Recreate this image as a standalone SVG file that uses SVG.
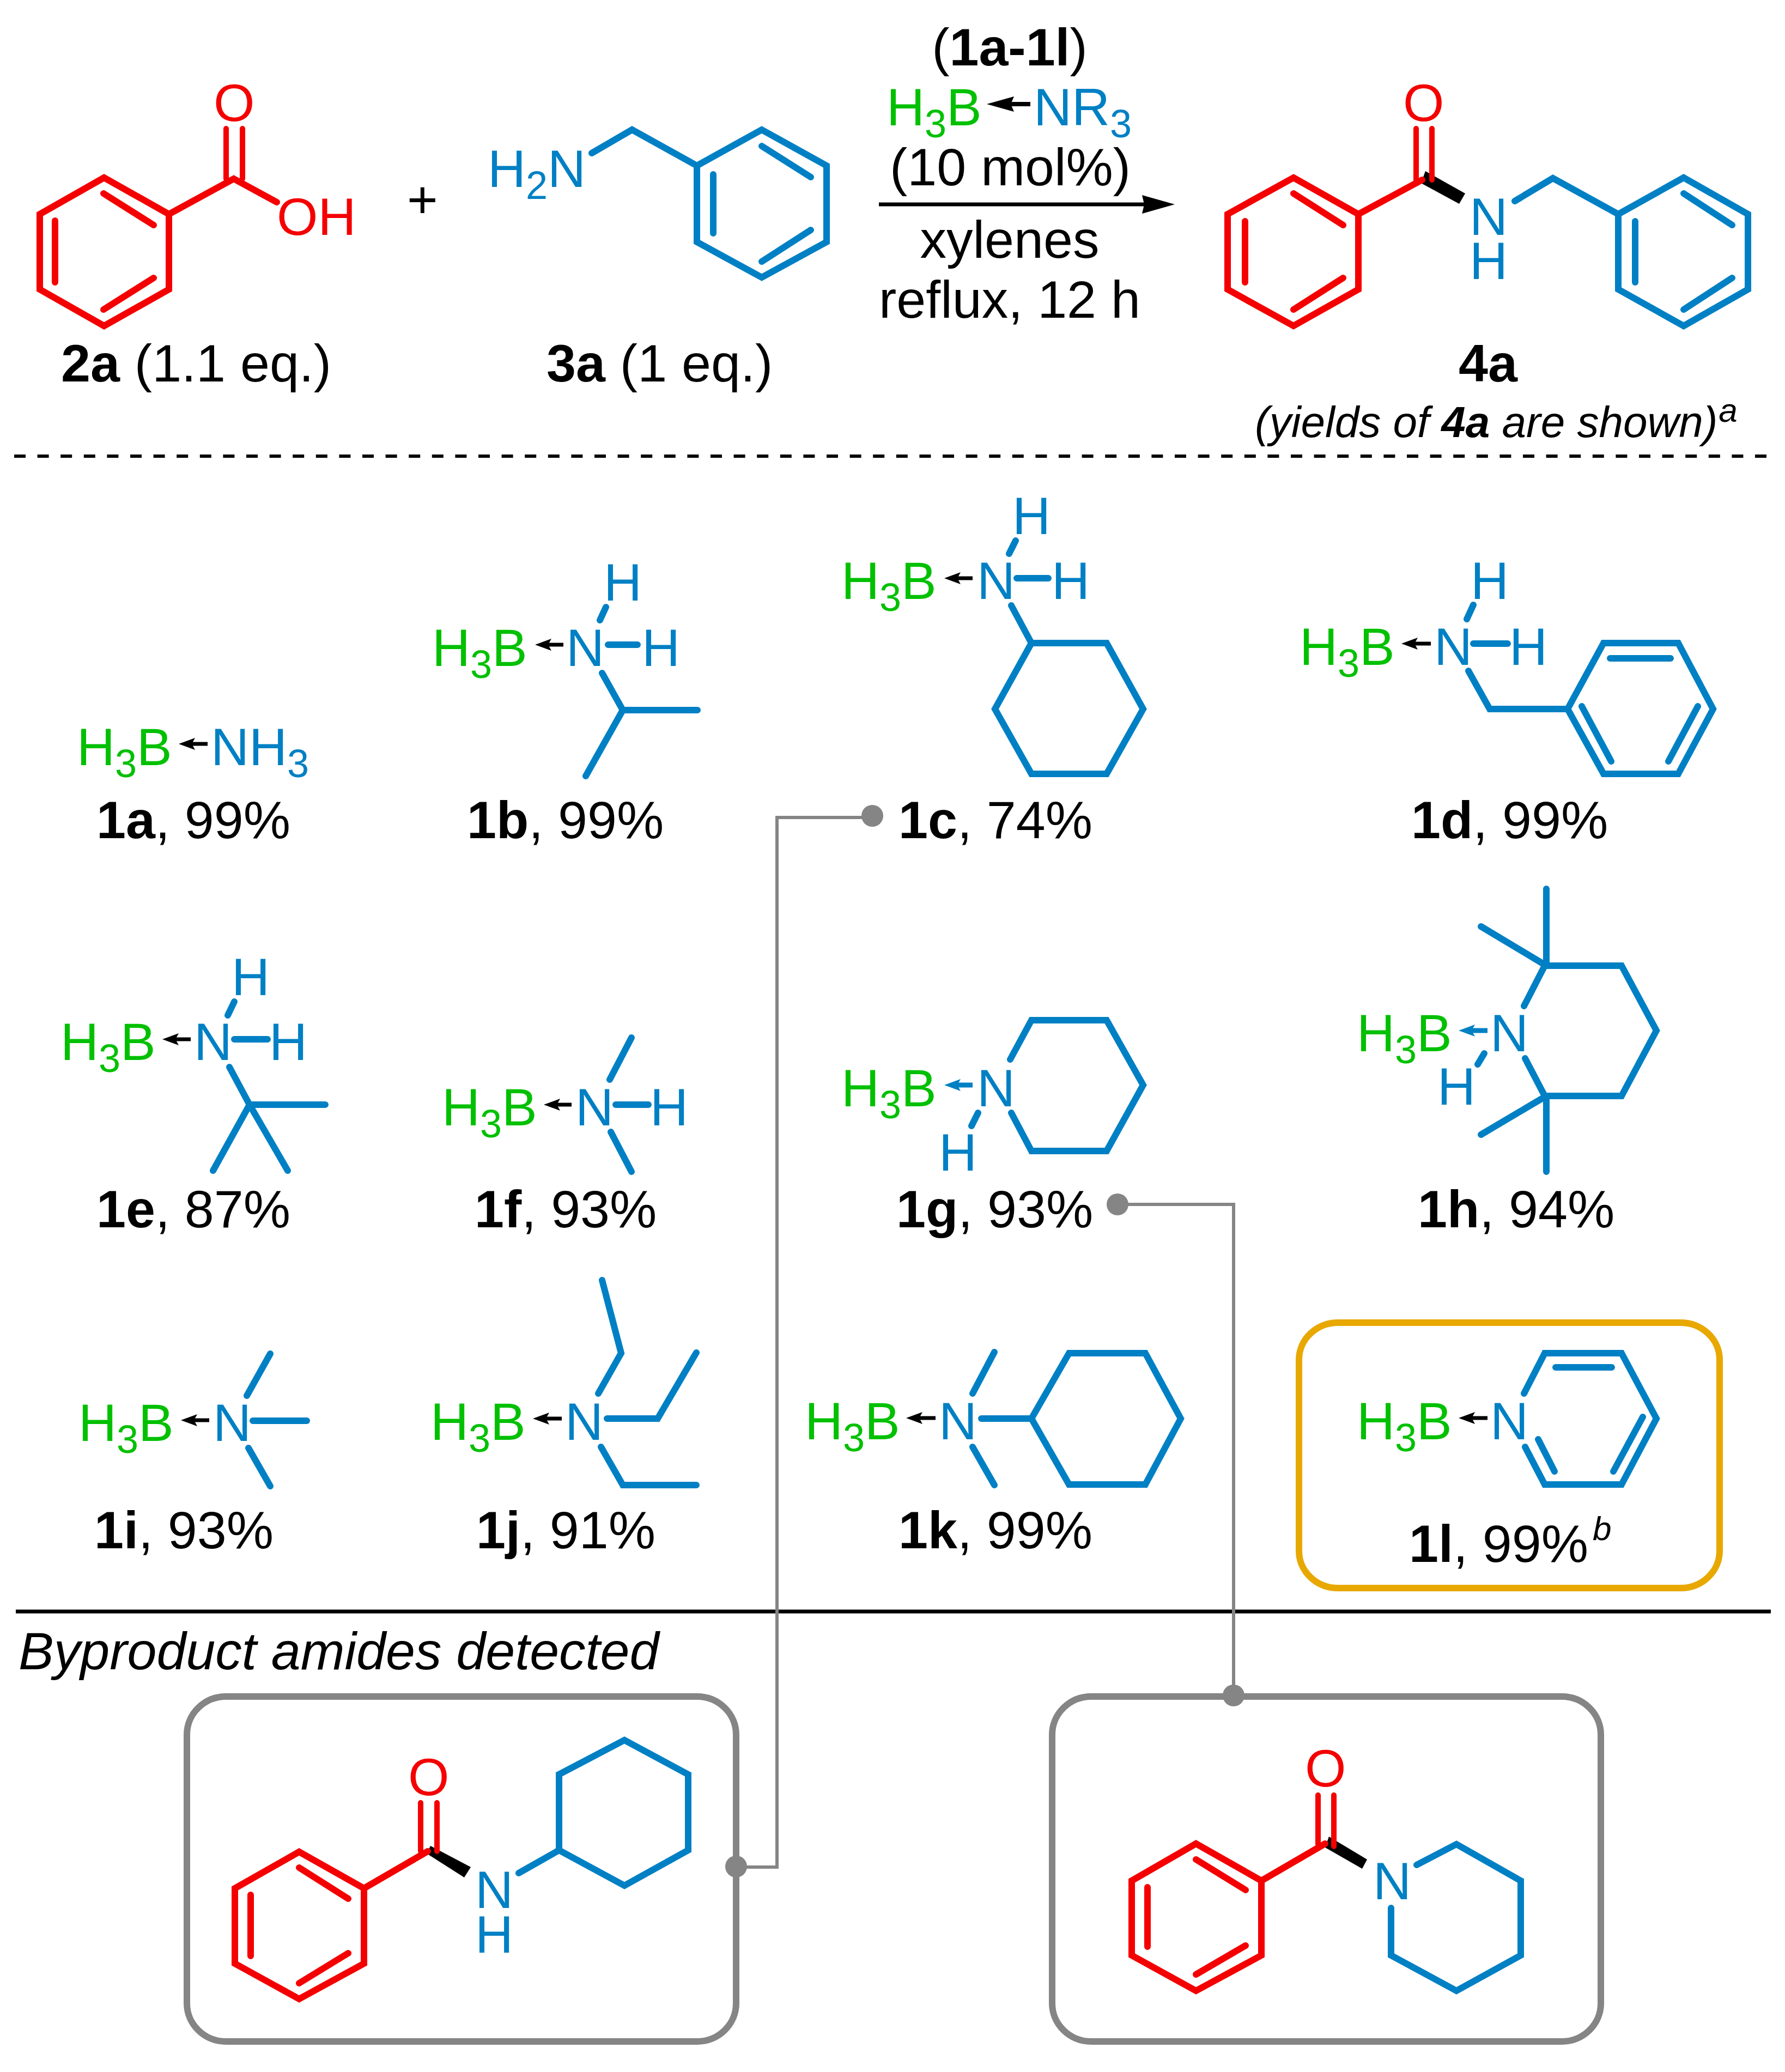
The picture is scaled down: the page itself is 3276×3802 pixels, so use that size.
<svg xmlns="http://www.w3.org/2000/svg" width="3276" height="3802" viewBox="0 0 3276 3802">
<style>
text{font-family:"Liberation Sans",Arial,sans-serif;font-size:97px;fill:#000}
.b{font-weight:bold}
.n{font-weight:normal}
.i{font-style:italic}
.g{fill:#00C000}
.c{fill:#0080C4}
.r{fill:#F50000}
.s{font-size:72px}
.sm{font-size:80px}
.sup{font-size:62px}
.rb,.cb{fill:none;stroke-width:12;stroke-linecap:round;stroke-linejoin:miter;stroke-miterlimit:10}
.rb{stroke:#F50000}
.cb{stroke:#0080C4}
.th{stroke-width:10}
.da{stroke:#000;stroke-width:7;fill:none;marker-end:url(#hk)}
.db{stroke:#0080C4;stroke-width:9;fill:none;marker-end:url(#hb)}
.box{fill:none;stroke:#858585;stroke-width:12}
.con{fill:none;stroke:#858585;stroke-width:6}
.dot{fill:#858585}
</style>
<defs>
<marker id="hk" markerUnits="userSpaceOnUse" markerWidth="34" markerHeight="24" refX="6" refY="12" orient="auto"><path d="M0,1L30,12L0,23L6,12Z" fill="#000"/></marker>
<marker id="hb" markerUnits="userSpaceOnUse" markerWidth="34" markerHeight="24" refX="6" refY="12" orient="auto"><path d="M0,1L30,12L0,23L6,12Z" fill="#0080C4"/></marker>
<marker id="hm" markerUnits="userSpaceOnUse" markerWidth="54" markerHeight="30" refX="6" refY="15" orient="auto"><path d="M0,1L50,15L0,29L6,15Z" fill="#000"/></marker>
<marker id="hl" markerUnits="userSpaceOnUse" markerWidth="64" markerHeight="36" refX="4" refY="18" orient="auto"><path d="M0,1L60,18L0,35L4,18Z" fill="#000"/></marker>
</defs>

<g id="reactant-2a">
<polygon class="rb" points="191,326 310,393 310,531 191,598 73,531 73,393"/>
<path class="rb" d="M190,355L282,413M101,405V518M282,510L190,568M310,393L429,328L508,371"/>
<path class="rb th" d="M415,236V328M445,236V328"/>
<text class="r" x="392" y="222">O</text>
<text class="r" x="508" y="431">OH</text>
<text class="b" x="112" y="700">2a<tspan class="n"> (1.1 eq.)</tspan></text>
</g>
<g id="plus"><text x="747" y="400">+</text></g>
<g id="reactant-3a">
<path class="cb" d="M1086,281L1160,238L1279,304"/>
<polygon class="cb" points="1279,304 1398,238 1517,304 1517,444 1398,509 1279,444"/>
<path class="cb" d="M1398,268L1488,325M1309,320V428M1488,422L1398,480"/>
<text class="c" x="895" y="343">H<tspan class="s" dy="22">2</tspan><tspan dy="-22">N</tspan></text>
<text class="b" x="1003" y="700">3a<tspan class="n"> (1 eq.)</tspan></text>
</g>
<g id="conditions">
<text x="1853" y="120" text-anchor="middle">(<tspan class="b">1a-1l</tspan>)</text>
<text class="g" x="1627" y="230">H<tspan class="s" dy="22">3</tspan><tspan dy="-22">B</tspan></text>
<line stroke="#000" stroke-width="8" marker-end="url(#hm)" x1="1891" y1="191" x2="1855" y2="191"/>
<text class="c" x="1897" y="230">NR<tspan class="s" dy="22">3</tspan></text>
<text x="1854" y="340" text-anchor="middle">(10 mol%)</text>
<line x1="1613" y1="375" x2="2100" y2="375" stroke="#000" stroke-width="7" marker-end="url(#hl)"/>
<text x="1853" y="473" text-anchor="middle">xylenes</text>
<text x="1853" y="583" text-anchor="middle">reflux, 12 h</text>
</g>
<g id="product-4a">
<polygon fill="#000" points="2616,314 2608,336 2678,374 2689,355"/>
<polygon class="rb" points="2374,326 2493,393 2493,531 2374,598 2253,531 2253,393"/>
<path class="rb" d="M2374,355L2465,413M2285,406V518M2465,510L2374,568M2493,393L2610,330"/>
<path class="rb th" d="M2599,236V330M2628,236V330"/>
<text class="r" x="2575" y="222">O</text>
<path class="cb" d="M2780,369L2850,327L2970,393"/>
<polygon class="cb" points="3090,326 3208,393 3208,531 3090,598 2970,531 2970,393"/>
<path class="cb" d="M3090,355L3179,413M3001,406V518M3179,510L3090,568"/>
<text class="c" x="2697" y="431">N</text>
<text class="c" x="2697" y="512">H</text>
<text class="b" x="2677" y="700">4a</text>
<text class="i sm" x="2303" y="802">(yields of <tspan class="b">4a</tspan> are shown)<tspan class="sup" dy="-28" dx="2">a</tspan></text>
</g>
<line id="dashed-divider" x1="26" y1="837" x2="3254" y2="837" stroke="#000" stroke-width="6" stroke-dasharray="21 21.6"/>

<g id="mol-1a">
<text class="g" x="141" y="1404">H<tspan class="s" dy="22">3</tspan><tspan dy="-22">B</tspan></text>
<line class="da" x1="381" y1="1365" x2="352" y2="1365"/>
<text class="c" x="387" y="1404">NH<tspan class="s" dy="22">3</tspan></text>
<text class="b" x="177" y="1538">1a<tspan class="n">, 99%</tspan></text>
</g>
<g id="mol-1b">
<text class="g" x="793" y="1222">H<tspan class="s" dy="22">3</tspan><tspan dy="-22">B</tspan></text>
<line class="da" x1="1034" y1="1183" x2="1006" y2="1183"/>
<text class="c" x="1039" y="1222">N</text><text class="c" x="1178" y="1222">H</text><text class="c" x="1108" y="1102">H</text>
<path class="cb" d="M1116,1183H1170M1112,1114L1101,1138M1105,1235L1143,1303H1280M1143,1303L1075,1424"/>
<text class="b" x="857" y="1538">1b<tspan class="n">, 99%</tspan></text>
</g>
<g id="mol-1c">
<text class="g" x="1544" y="1099">H<tspan class="s" dy="22">3</tspan><tspan dy="-22">B</tspan></text>
<line class="da" x1="1785" y1="1061" x2="1757" y2="1061"/>
<text class="c" x="1793" y="1099">N</text><text class="c" x="1930" y="1099">H</text><text class="c" x="1858" y="980">H</text>
<path class="cb" d="M1866,1061H1924M1864,992L1852,1016M1856,1111L1893,1180"/>
<polygon class="cb" points="1893,1180 2031,1180 2098,1301 2031,1420 1893,1420 1826,1301"/>
<text class="b" x="1649" y="1538">1c<tspan class="n">, 74%</tspan></text>
</g>
<g id="mol-1d">
<text class="g" x="2385" y="1220">H<tspan class="s" dy="22">3</tspan><tspan dy="-22">B</tspan></text>
<line class="da" x1="2626" y1="1181" x2="2596" y2="1181"/>
<text class="c" x="2632" y="1220">N</text><text class="c" x="2770" y="1220">H</text><text class="c" x="2699" y="1099">H</text>
<path class="cb" d="M2704,1181H2767M2704,1110L2692,1136M2695,1231L2734,1301H2877"/>
<polygon class="cb" points="2877,1301 2943,1180 3080,1180 3144,1301 3080,1420 2943,1420"/>
<path class="cb" d="M2955,1208H3066M2903,1296L2957,1397M3116,1296L3062,1397"/>
<text class="b" x="2590" y="1538">1d<tspan class="n">, 99%</tspan></text>
</g>
<g id="mol-1e">
<text class="g" x="111" y="1945">H<tspan class="s" dy="22">3</tspan><tspan dy="-22">B</tspan></text>
<line class="da" x1="350" y1="1907" x2="322" y2="1907"/>
<text class="c" x="356" y="1945">N</text><text class="c" x="494" y="1945">H</text><text class="c" x="425" y="1826">H</text>
<path class="cb" d="M430,1907H491M430,1838L418,1863M421,1958L458,2027H597M458,2027L391,2148M458,2027L528,2148"/>
<text class="b" x="177" y="2252">1e<tspan class="n">, 87%</tspan></text>
</g>
<g id="mol-1f">
<text class="g" x="811" y="2065">H<tspan class="s" dy="22">3</tspan><tspan dy="-22">B</tspan></text>
<line class="da" x1="1049" y1="2027" x2="1022" y2="2027"/>
<text class="c" x="1056" y="2065">N</text><text class="c" x="1193" y="2065">H</text>
<path class="cb" d="M1130,2027H1190M1119,1981L1159,1904M1121,2077L1159,2150"/>
<text class="b" x="871" y="2252">1f<tspan class="n">, 93%</tspan></text>
</g>
<g id="mol-1g">
<text class="g" x="1544" y="2030">H<tspan class="s" dy="22">3</tspan><tspan dy="-22">B</tspan></text>
<line class="db" x1="1785" y1="1991" x2="1757" y2="1991"/>
<text class="c" x="1793" y="2030">N</text><text class="c" x="1723" y="2148">H</text>
<path class="cb" d="M1854,1944L1893,1872H2031L2098,1991L2031,2112H1893L1856,2042M1795,2042L1783,2066"/>
<text class="b" x="1645" y="2252">1g<tspan class="n">, 93%</tspan></text>
</g>
<g id="mol-1h">
<text class="g" x="2490" y="1929">H<tspan class="s" dy="22">3</tspan><tspan dy="-22">B</tspan></text>
<line class="db" x1="2730" y1="1891" x2="2701" y2="1891"/>
<text class="c" x="2735" y="1929">N</text><text class="c" x="2638" y="2027">H</text>
<path class="cb" d="M2797,1846L2835,1772H2976L3040,1891L2976,2011H2835L2799,1942M2838,1772V1631M2838,1772L2718,1700M2838,2011V2150M2838,2011L2718,2082M2724,1933L2712,1953"/>
<text class="b" x="2602" y="2252">1h<tspan class="n">, 94%</tspan></text>
</g>
<g id="mol-1i">
<text class="g" x="144" y="2644">H<tspan class="s" dy="22">3</tspan><tspan dy="-22">B</tspan></text>
<line class="da" x1="384" y1="2606" x2="356" y2="2606"/>
<text class="c" x="391" y="2644">N</text>
<path class="cb" d="M453,2561L496,2484M464,2607H563M456,2657L496,2727"/>
<text class="b" x="173" y="2841">1i<tspan class="n">, 93%</tspan></text>
</g>
<g id="mol-1j">
<text class="g" x="790" y="2642">H<tspan class="s" dy="22">3</tspan><tspan dy="-22">B</tspan></text>
<line class="da" x1="1031" y1="2603" x2="1002" y2="2603"/>
<text class="c" x="1037" y="2642">N</text>
<path class="cb" d="M1098,2557L1140,2483L1105,2349M1114,2603H1207L1278,2482M1103,2655L1143,2725H1278"/>
<text class="b" x="874" y="2841">1j<tspan class="n">, 91%</tspan></text>
</g>
<g id="mol-1k">
<text class="g" x="1477" y="2641">H<tspan class="s" dy="22">3</tspan><tspan dy="-22">B</tspan></text>
<line class="da" x1="1717" y1="2602" x2="1687" y2="2602"/>
<text class="c" x="1723" y="2641">N</text>
<path class="cb" d="M1785,2557L1825,2481M1801,2603H1893M1785,2655L1825,2725"/>
<polygon class="cb" points="1893,2603 1962,2483 2102,2483 2167,2603 2102,2724 1962,2724"/>
<text class="b" x="1649" y="2841">1k<tspan class="n">, 99%</tspan></text>
</g>
<g id="mol-1l">
<rect x="2384" y="2427" width="772" height="487" rx="72" ry="68" fill="none" stroke="#E8A800" stroke-width="12"/>
<text class="g" x="2490" y="2641">H<tspan class="s" dy="22">3</tspan><tspan dy="-22">B</tspan></text>
<line class="da" x1="2730" y1="2602" x2="2701" y2="2602"/>
<text class="c" x="2735" y="2641">N</text>
<path class="cb" d="M2797,2557L2835,2483H2976L3040,2603L2976,2724H2835L2799,2655M2855,2509H2958M3015,2600L2961,2700M2823,2641L2853,2700"/>
<text class="b" x="2586" y="2866">1l<tspan class="n">, 99%</tspan><tspan class="i sup n" dy="-40" dx="8">b</tspan></text>
</g>
<line id="solid-divider" x1="29" y1="2957" x2="3250" y2="2957" stroke="#000" stroke-width="7"/>
<text id="byproduct-heading" class="i" x="34" y="3063">Byproduct amides detected</text>

<g id="byproduct-cyclohexyl">
<rect class="box" x="343" y="3113" width="1008" height="633" rx="72" ry="70"/>
<polygon fill="#000" points="790,3387 783,3401 852,3445 864,3426"/>
<polygon class="rb" points="549,3398 668,3465 668,3603 549,3668 431,3603 431,3465"/>
<path class="rb" d="M549,3427L639,3484M460,3477V3589M639,3584L549,3639M668,3465L785,3397"/>
<path class="rb th" d="M772,3308V3397M802,3308V3397"/>
<text class="r" x="749" y="3294">O</text>
<text class="c" x="872" y="3501">N</text>
<text class="c" x="872" y="3583">H</text>
<path class="cb" d="M952,3437L1026,3395"/>
<polygon class="cb" points="1026,3395 1026,3256 1146,3193 1263,3256 1263,3395 1146,3460"/>
</g>
<g id="byproduct-piperidine">
<rect class="box" x="1931" y="3113" width="1007" height="633" rx="72" ry="70"/>
<polygon fill="#000" points="2439,3370 2432,3390 2500,3429 2509,3412"/>
<polygon class="rb" points="2195,3383 2315,3451 2315,3588 2195,3653 2077,3588 2077,3451"/>
<path class="rb" d="M2195,3412L2286,3468M2106,3463V3572M2286,3570L2195,3623M2315,3451L2432,3383"/>
<path class="rb th" d="M2419,3294V3384M2448,3294V3388"/>
<text class="r" x="2395" y="3278">O</text>
<text class="c" x="2520" y="3485">N</text>
<path class="cb" d="M2600,3422L2673,3384L2791,3451V3588L2673,3653L2553,3588V3501"/>
</g>
<g id="connectors">
<path class="con" d="M1601,1500H1426V3426H1351"/>
<circle class="dot" cx="1601" cy="1497" r="20"/>
<circle class="dot" cx="1351" cy="3425" r="20"/>
<path class="con" d="M2051,2210H2264V3111"/>
<circle class="dot" cx="2051" cy="2210" r="20"/>
<circle class="dot" cx="2264" cy="3111" r="20"/>
</g>
</svg>
